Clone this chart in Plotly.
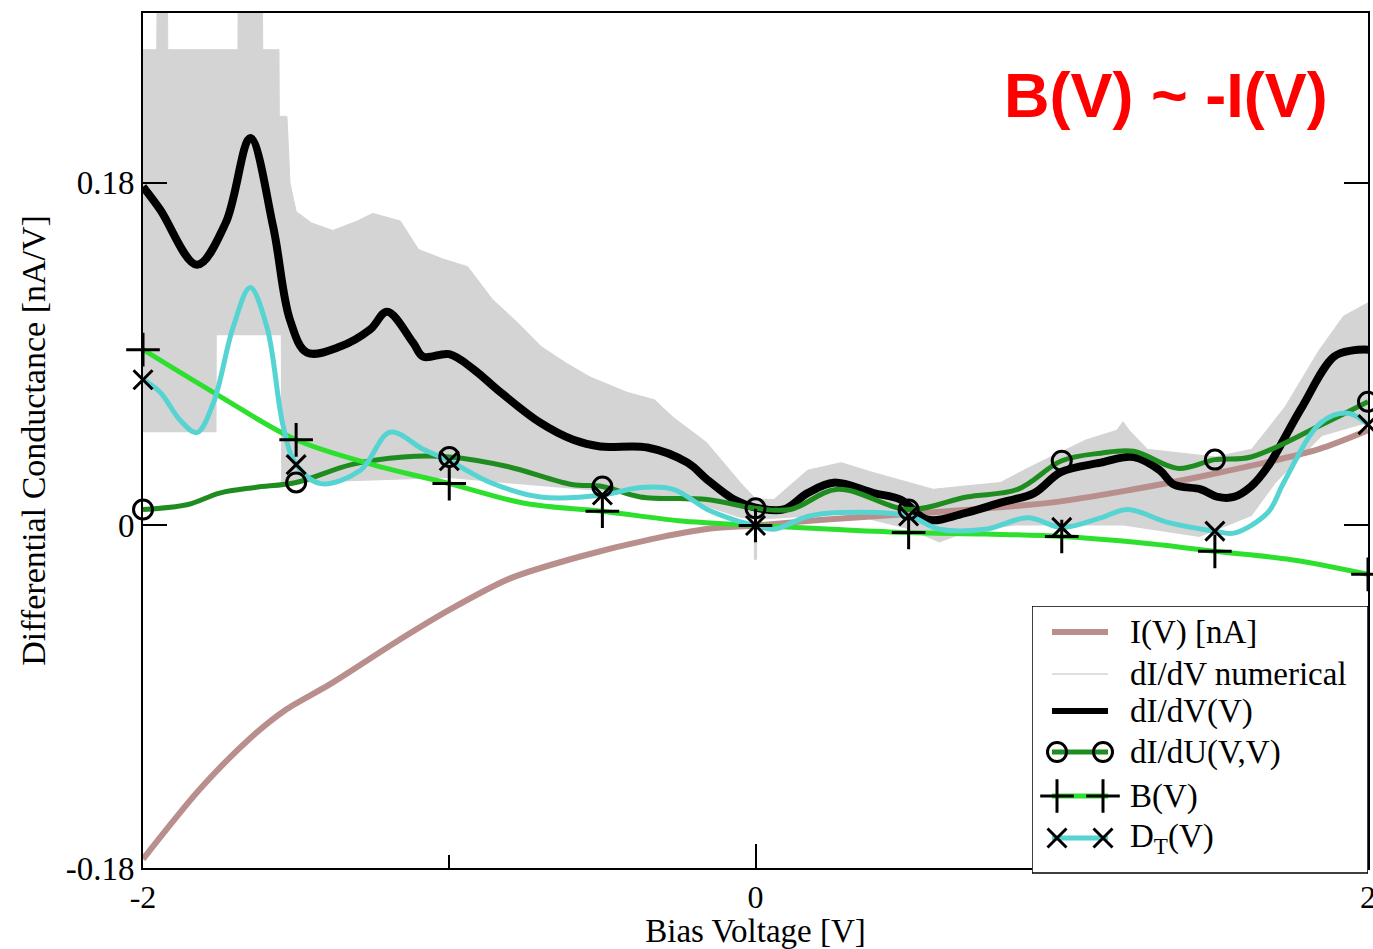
import numpy as np
import plotly.graph_objects as go

# ---------------------------------------------------------------------------
# Bias voltage sweeps and the curves measured / computed along them
# ---------------------------------------------------------------------------
v_current = [-2.0, -1.814, -1.65, -1.536, -1.389, -1.16, -0.997, -0.801, -0.572,
             -0.343, -0.147, 0.0, 0.22, 0.5, 0.964, 1.235, 1.454, 1.837, 2.0]
current = [-0.1753, -0.1385, -0.1118, -0.0971, -0.0834, -0.0598, -0.0441, -0.0278, -0.0163,
           -0.0073, -0.0016, 0.0, 0.003, 0.006, 0.012, 0.019, 0.0257, 0.040, 0.050]

# noisy numerical derivative, kept as its upper and lower envelopes
v_num_upper = [-2.0, -1.955, -1.954, -1.92, -1.919, -1.69, -1.689, -1.61, -1.609,
               -1.556, -1.555, -1.53, -1.52, -1.5, -1.45, -1.38, -1.3, -1.25, -1.16,
               -1.14, -1.1, -1.02, -0.94, -0.86, -0.78, -0.70, -0.62, -0.54, -0.42,
               -0.33, -0.27, -0.16, -0.05, 0.0, 0.06, 0.17, 0.28, 0.38, 0.47, 0.58,
               0.8, 0.9, 1.08, 1.18, 1.2, 1.22, 1.28, 1.5, 1.62, 1.73, 1.84, 1.92, 2.0]
num_upper = [0.25, 0.25, 0.28, 0.28, 0.25, 0.25, 0.28, 0.28, 0.25,
             0.25, 0.215, 0.215, 0.18, 0.165, 0.159, 0.155, 0.16, 0.164, 0.16,
             0.155, 0.145, 0.14, 0.136, 0.119, 0.107, 0.094, 0.0855, 0.078, 0.070,
             0.066, 0.057, 0.0436, 0.0226, 0.014, 0.0136, 0.029, 0.033, 0.028, 0.024, 0.019,
             0.0226, 0.031, 0.045, 0.05, 0.0545, 0.05, 0.040, 0.036, 0.040, 0.0625, 0.092,
             0.110, 0.117]
v_num_lower = [-2.0, -1.76, -1.759, -1.55, -1.549, -1.0, -0.8, -0.5, -0.2, -0.05,
               -0.006, -0.005, 0.005, 0.006, 0.3, 0.5, 0.6, 0.7, 0.85, 1.2, 1.45,
               1.62, 1.7, 1.85, 2.0]
num_lower = [0.049, 0.049, 0.10, 0.10, 0.022, 0.025, 0.022, 0.018, 0.012, 0.004,
             0.003, -0.018, -0.018, 0.003, 0.006, -0.002, -0.009, -0.003, 0.0, 0.0, -0.006,
             0.005, 0.0226, 0.047, 0.054]

v_didv = [-2.0, -1.944, -1.824, -1.73, -1.65, -1.575, -1.52, -1.464, -1.356, -1.258,
          -1.203, -1.118, -1.085, -1.0, -0.92, -0.843, -0.703, -0.595, -0.507, -0.353,
          -0.222, -0.157, -0.07, 0.0, 0.092, 0.17, 0.255, 0.386, 0.474, 0.562, 0.69,
          0.80, 0.91, 0.997, 1.127, 1.235, 1.32, 1.366, 1.454, 1.51, 1.562, 1.618,
          1.673, 1.78, 1.889, 1.95, 2.0]
didv = [0.178, 0.166, 0.137, 0.159, 0.2036, 0.157, 0.108, 0.0908, 0.094, 0.103,
        0.1123, 0.096, 0.0887, 0.09, 0.082, 0.0714, 0.054, 0.045, 0.0415, 0.041,
        0.033, 0.024, 0.0136, 0.0094, 0.0084, 0.017, 0.0225, 0.017, 0.0136, 0.003, 0.0068,
        0.012, 0.017, 0.028, 0.033, 0.036, 0.029, 0.0215, 0.019, 0.015, 0.015, 0.0205,
        0.031, 0.061, 0.0887, 0.092, 0.0924]

v_didu = [-2.0, -1.853, -1.75, -1.634, -1.5, -1.32, -1.15, -1.0, -0.81, -0.6, -0.5,
          -0.376, -0.157, 0.0, 0.114, 0.268, 0.5, 0.69, 0.856, 1.0, 1.127, 1.235,
          1.379, 1.5, 1.618, 1.837, 2.0]
didu = [0.0084, 0.011, 0.017, 0.020, 0.0226, 0.032, 0.036, 0.036, 0.031, 0.0215, 0.0205,
        0.015, 0.0136, 0.009, 0.0084, 0.019, 0.0084, 0.015, 0.019, 0.034, 0.038, 0.039,
        0.030, 0.0346, 0.036, 0.052, 0.065]

v_b = [-2.0, -1.75, -1.5, -1.25, -1.0, -0.75, -0.5, -0.25, 0.0, 0.25, 0.5, 0.75,
       1.0, 1.25, 1.5, 1.75, 2.0]
b_vals = [0.0924, 0.068, 0.045, 0.032, 0.022, 0.0115, 0.0075, 0.0025, 0.0, -0.002,
          -0.0037, -0.0045, -0.0058, -0.009, -0.0136, -0.018, -0.0257]

v_dt = [-2.0, -1.944, -1.88, -1.824, -1.77, -1.706, -1.65, -1.595, -1.542, -1.5,
        -1.42, -1.29, -1.193, -1.085, -1.0, -0.866, -0.703, -0.5, -0.376, -0.268,
        -0.157, -0.07, 0.0, 0.059, 0.17, 0.278, 0.5, 0.6, 0.75, 0.889, 1.0, 1.127,
        1.216, 1.346, 1.5, 1.562, 1.673, 1.725, 1.846, 1.935, 2.0]
dt_vals = [0.0766, 0.070, 0.0556, 0.0488, 0.0645, 0.104, 0.125, 0.104, 0.052, 0.032,
           0.022, 0.029, 0.049, 0.040, 0.034, 0.0226, 0.015, 0.016, 0.020, 0.019,
           0.0084, 0.003, 0.0, -0.002, 0.0047, 0.0068, 0.005, -0.002, -0.002, 0.004,
           -0.001, 0.004, 0.0084, 0.0016, -0.003, -0.004, 0.0068, 0.0226, 0.054, 0.059, 0.053]

# symbols are placed every half volt
marker_voltages = [-2.0, -1.5, -1.0, -0.5, 0.0, 0.5, 1.0, 1.5, 2.0]

x_ticks = [-2, 0, 2]
x_tick_text = ["-2", "0", "2"]
x_minor_ticks = [-1, 1]
y_ticks = [-0.18, 0, 0.18]
y_tick_text = ["-0.18", "0", "0.18"]

legend_labels = ["I(V) [nA]", "dI/dV numerical", "dI/dV(V)", "dI/dU(V,V)",
                 "B(V)", "D<sub>T</sub>(V)"]

# ---------------------------------------------------------------------------
# Styles
# ---------------------------------------------------------------------------
C_CURRENT = "#b98f8d"
C_NUM = "#d4d4d4"
C_DIDV = "#000000"
C_DIDU = "#1f8c1f"
C_B = "#2ee02e"
C_DT = "#56d4d2"
SERIF = "Liberation Serif, Times New Roman, serif"

W, H = 1373, 949
M_L, M_R, M_T, M_B = 143, 5, 13, 74
PLOT_BOTTOM = 868                      # pixel row of the bottom axis line
paper_h = H - M_T - M_B
paper_w = W - M_L - M_R
main_y0 = (H - M_B - PLOT_BOTTOM) / paper_h


def at_markers(vs, ys):
    vs = np.asarray(vs, float)
    ys = np.asarray(ys, float)
    keep = np.isin(np.round(vs, 3), np.round(marker_voltages, 3))
    return vs[keep], ys[keep]


fig = go.Figure()

# numerical derivative band
fig.add_trace(go.Scatter(x=v_num_lower, y=num_lower, mode="lines",
                         line=dict(color=C_NUM, width=0),
                         hoverinfo="skip"))
fig.add_trace(go.Scatter(x=v_num_upper, y=num_upper, mode="lines",
                         line=dict(color=C_NUM, width=1),
                         fill="tonexty", fillcolor=C_NUM, hoverinfo="skip"))

fig.add_trace(go.Scatter(x=v_current, y=current, mode="lines",
                         line=dict(color=C_CURRENT, width=6, shape="spline", smoothing=0.8)))
fig.add_trace(go.Scatter(x=v_didv, y=didv, mode="lines",
                         line=dict(color=C_DIDV, width=8, shape="spline")))
fig.add_trace(go.Scatter(x=v_didu, y=didu, mode="lines",
                         line=dict(color=C_DIDU, width=5, shape="spline")))
fig.add_trace(go.Scatter(x=v_b, y=b_vals, mode="lines",
                         line=dict(color=C_B, width=5, shape="spline")))
fig.add_trace(go.Scatter(x=v_dt, y=dt_vals, mode="lines",
                         line=dict(color=C_DT, width=5, shape="spline")))

# half-volt symbols
for vs, ys, sym, size in [(v_didu, didu, "circle-open", 19),
                          (v_b, b_vals, "cross-thin-open", 24),
                          (v_dt, dt_vals, "x-thin-open", 19)]:
    mx, my = at_markers(vs, ys)
    fig.add_trace(go.Scatter(x=mx, y=my, mode="markers", cliponaxis=False,
                             marker=dict(symbol=sym, size=size, color="black",
                                         line=dict(color="black", width=3))))

# ---------------------------------------------------------------------------
# Legend box drawn on its own small axes (pixel-like coordinates)
# ---------------------------------------------------------------------------
LB_L, LB_R, LB_T, LB_B = 1032, 1368, 606, 873
rows = [632, 674, 711, 752, 796, 838]
s_x0, s_x1 = 1052, 1108
m_x0, m_x1 = 1057, 1103
txt_x = 1128

fig.add_trace(go.Scatter(x=[LB_L, LB_R, LB_R, LB_L, LB_L],
                         y=[LB_T, LB_T, LB_B, LB_B, LB_T],
                         xaxis="x2", yaxis="y2", mode="lines", fill="toself",
                         fillcolor="white", line=dict(color="black", width=1.5),
                         hoverinfo="skip"))
sample_styles = [
    dict(color=C_CURRENT, width=6, sym=None),
    dict(color=C_NUM, width=1.5, sym=None),
    dict(color=C_DIDV, width=6, sym=None),
    dict(color=C_DIDU, width=5, sym=("circle-open", 19)),
    dict(color=C_B, width=5, sym=("cross-thin-open", 24)),
    dict(color=C_DT, width=5, sym=("x-thin-open", 19)),
]
for yrow, st, label in zip(rows, sample_styles, legend_labels):
    fig.add_trace(go.Scatter(x=[s_x0, s_x1], y=[yrow, yrow], xaxis="x2", yaxis="y2",
                             mode="lines", line=dict(color=st["color"], width=st["width"]),
                             hoverinfo="skip"))
    if st["sym"]:
        fig.add_trace(go.Scatter(x=[m_x0, m_x1], y=[yrow, yrow], xaxis="x2", yaxis="y2",
                                 mode="markers", cliponaxis=False,
                                 marker=dict(symbol=st["sym"][0], size=st["sym"][1],
                                             color="black",
                                             line=dict(color="black", width=3)),
                                 hoverinfo="skip"))
    fig.add_annotation(x=txt_x, y=yrow, xref="x2", yref="y2", text=label,
                       showarrow=False, xanchor="left", yanchor="middle",
                       font=dict(family=SERIF, size=33, color="black"))

# relation stated on the plot
fig.add_annotation(x=1.34, y=0.226, xref="x", yref="y", text="<b>B(V) ~ -I(V)</b>",
                   showarrow=False, xanchor="center", yanchor="middle",
                   font=dict(family="Liberation Sans, Arial, sans-serif", size=63,
                             color="#ff0000"))

axis_font = dict(family=SERIF, size=32, color="black")
fig.update_layout(
    width=W, height=H,
    margin=dict(l=M_L, r=M_R, t=M_T, b=M_B, autoexpand=False),
    paper_bgcolor="white", plot_bgcolor="white",
    showlegend=False,
    xaxis=dict(range=[-2, 2], tickvals=x_ticks, ticktext=x_tick_text,
               ticks="inside", ticklen=24, tickwidth=1.5, tickcolor="black",
               ticklabeloverflow="allow", automargin=False,
               minor=dict(tickvals=x_minor_ticks, ticks="inside", ticklen=13,
                          tickwidth=1.5, tickcolor="black"),
               showline=True, linecolor="black", linewidth=2, mirror=True,
               showgrid=False, zeroline=False, tickfont=axis_font,
               title=dict(text="Bias Voltage [V]", font=dict(family=SERIF, size=33,
                                                            color="black"),
                          standoff=5)),
    yaxis=dict(range=[-0.18, 0.2693], domain=[main_y0, 1],
               tickvals=y_ticks, ticktext=y_tick_text,
               ticks="inside", ticklen=24, tickwidth=1.5, tickcolor="black",
               showline=True, linecolor="black", linewidth=2, mirror="ticks",
               showgrid=False, zeroline=False, tickfont=dict(family=SERIF, size=33,
                                                             color="black"),
               title=dict(text="Differential Conductance [nA/V]",
                          font=dict(family=SERIF, size=34, color="black"),
                          standoff=10)),
    xaxis2=dict(domain=[(LB_L - M_L) / paper_w, 1], range=[LB_L, LB_R], anchor="y2",
                visible=False, fixedrange=True),
    yaxis2=dict(domain=[0, (H - M_B - LB_T) / paper_h], range=[H - M_B, LB_T],
                anchor="x2", visible=False, fixedrange=True),
)

fig.write_html("out.html")
